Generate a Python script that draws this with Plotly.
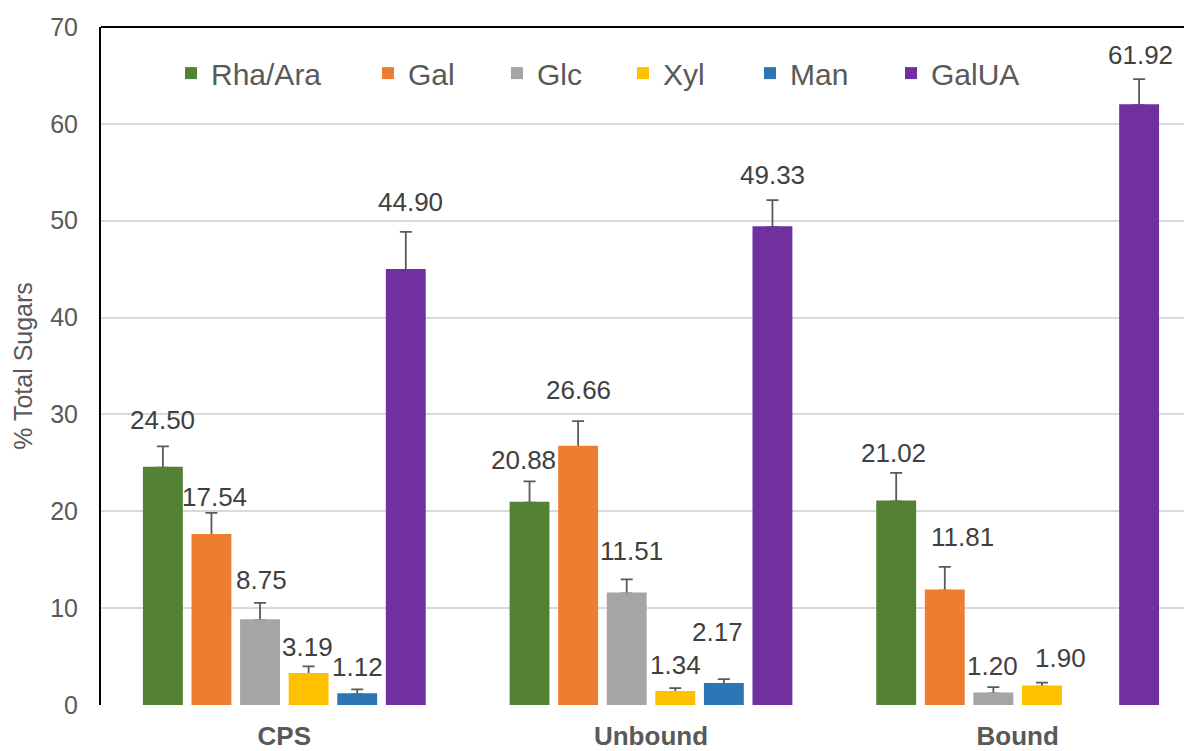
import plotly.graph_objects as go

categories = ["CPS", "Unbound", "Bound"]
series_names = ["Rha/Ara", "Gal", "Glc", "Xyl", "Man", "GalUA"]

rha_ara = [24.50, 20.88, 21.02]
gal = [17.54, 26.66, 11.81]
glc = [8.75, 11.51, 1.20]
xyl = [3.19, 1.34, 1.90]
man = [1.12, 2.17, None]
galua = [44.90, 49.33, 61.92]

rha_ara_err = [2.2, 2.2, 2.95]
gal_err = [2.3, 2.65, 2.45]
glc_err = [1.8, 1.45, 0.65]
xyl_err = [0.8, 0.4, 0.4]
man_err = [0.5, 0.5, None]
galua_err = [3.95, 2.8, 2.7]

y_ticks = [0, 10, 20, 30, 40, 50, 60, 70]

values = [rha_ara, gal, glc, xyl, man, galua]
errors = [rha_ara_err, gal_err, glc_err, xyl_err, man_err, galua_err]

# styling
colors = ["#548235", "#ED7D31", "#A5A5A5", "#FFC000", "#2E75B6", "#7030A0"]
legend_widths = [152, 84, 81, 82, 96, 100]
label_dy = [[26, 21, 20], [16, 31, 30], [23, 28, 21], [19, 23, 25], [22, 47, 0], [30, 25, 24]]
label_dx = [[0, -6, -3], [3, 0, 18], [1, 5, -1], [-1, 0, 19], [0, -6, 0], [5, 0, 1]]

FONT = "Arial, 'Liberation Sans', sans-serif"
PAGE_OFFSET = 8  # default body margin of the html page
W, H = 1192 - PAGE_OFFSET, 751 - PAGE_OFFSET
ML, MR, MT = 101 - PAGE_OFFSET, 0, 27 - PAGE_OFFSET
PLOT_H = 678
MB = H - MT - PLOT_H
BARGAP = 0.205
BARGROUPGAP = 0.22
X_RANGE = [-0.5, 2.4755]

fig = go.Figure()
for i, name in enumerate(series_names):
    fig.add_trace(go.Bar(
        x=categories, y=values[i], name=name, offsetgroup=str(i),
        marker=dict(color=colors[i], line=dict(width=0)),
        legendwidth=legend_widths[i],
        error_y=dict(type="data", symmetric=False, array=[e if e is not None else 0 for e in errors[i]],
                     arrayminus=[0, 0, 0], color="#595959", thickness=1.8, width=6, visible=True),
        hoverinfo="skip",
    ))
# cover copies so that only the upper whiskers remain visible
for i, name in enumerate(series_names):
    fig.add_trace(go.Bar(
        x=categories, y=values[i], name=name, offsetgroup=str(i), showlegend=False,
        marker=dict(color=colors[i], line=dict(width=2, color=colors[i])), hoverinfo="skip",
    ))

plot_w = W - ML - MR
cat_px = plot_w / (X_RANGE[1] - X_RANGE[0])
slot_px = cat_px * (1 - BARGAP) / len(series_names)

annotations = []
for i in range(len(series_names)):
    for j, cat in enumerate(categories):
        v = values[i][j]
        if v is None:
            continue
        e = errors[i][j] or 0
        annotations.append(dict(
            x=cat, y=v + e, xref="x", yref="y", text=f"{v:.2f}", showarrow=False,
            xshift=(i - 2.5) * slot_px + label_dx[i][j], yshift=label_dy[i][j],
            yanchor="middle", xanchor="center",
            font=dict(family=FONT, size=26, color="#404040"),
        ))

fig.update_layout(
    template="none",
    width=W, height=H,
    margin=dict(l=ML, r=MR, t=MT, b=MB, pad=0),
    paper_bgcolor="white", plot_bgcolor="white",
    barmode="group", bargap=BARGAP, bargroupgap=BARGROUPGAP,
    font=dict(family=FONT, color="#595959"),
    showlegend=True,
    legend=dict(orientation="h", x=(171 - 101) / plot_w, xanchor="left",
                y=0.932, yanchor="middle", font=dict(family=FONT, size=30, color="#595959"),
                bgcolor="rgba(0,0,0,0)", borderwidth=0, traceorder="normal"),
    annotations=annotations,
    shapes=[dict(type="line", xref="paper", yref="paper", x0=0, x1=1, y0=1, y1=1,
                 line=dict(color="black", width=2))],
    xaxis=dict(range=X_RANGE, showgrid=False, showline=False, zeroline=False, ticks="",
               tickfont=dict(family=FONT, size=26, color="#595959", weight="bold"),
               ticklabelstandoff=13, automargin=False),
    yaxis=dict(range=[0, 70], tickvals=y_ticks, showgrid=True, gridcolor="#d9d9d9", gridwidth=1.5,
               zeroline=False, showline=True, linecolor="black", linewidth=2, ticks="",
               tickfont=dict(family=FONT, size=25, color="#595959"), ticklabelstandoff=16,
               title=dict(text="% Total Sugars", font=dict(family=FONT, size=25, color="#595959"), standoff=10),
               automargin=False),
)

fig.write_html("out.html")
